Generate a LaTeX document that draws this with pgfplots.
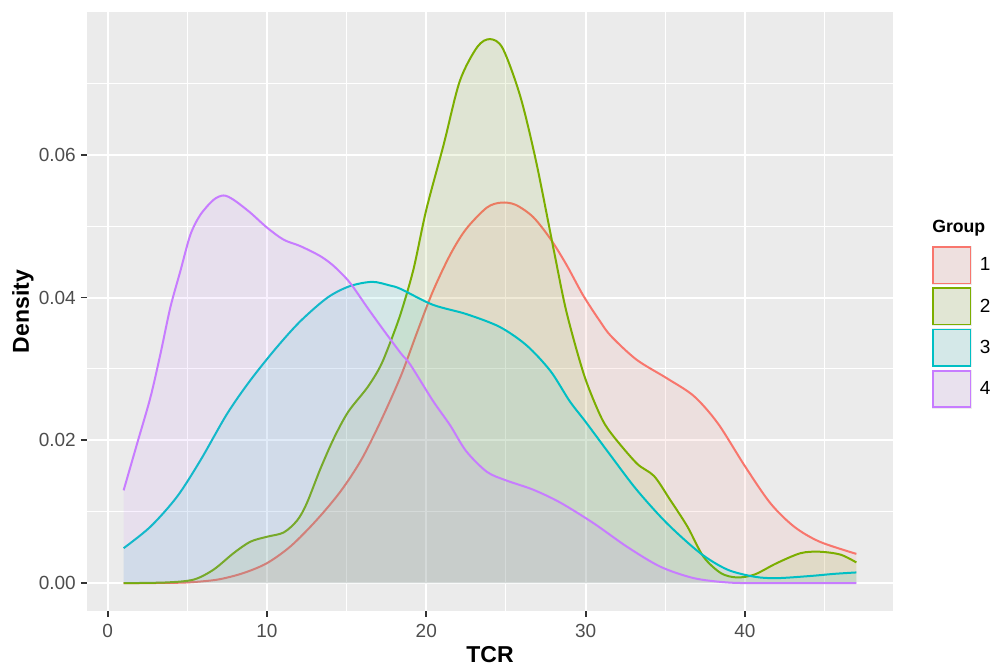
\documentclass[border=0pt]{standalone}
\usepackage{pgfplots}
\usepackage{pgfplotstable}
\pgfplotsset{compat=1.18}
\usepackage{fontspec}
\setmainfont{Liberation Sans}
\definecolor{c1}{HTML}{F8766D}
\definecolor{c2}{HTML}{7CAE00}
\definecolor{c3}{HTML}{00BFC4}
\definecolor{c4}{HTML}{C77CFF}
\definecolor{panel}{HTML}{EBEBEB}
\definecolor{keybg}{HTML}{EDEDED}
\definecolor{ticktext}{HTML}{4D4D4D}
\definecolor{tickmark}{HTML}{333333}

\pgfplotstableread{
x y
1 0
3 0.00002
5 0.0001
6.9 0.0005
8.5 0.0014
10 0.0028
11.5 0.0052
13.1 0.0088
14.6 0.0128
15.9 0.0172
17.1 0.0225
18.4 0.0290
19.4 0.0350
20.4 0.0408
21.5 0.0460
22.5 0.0496
23.8 0.0526
24.7 0.0533
25.6 0.0530
26.7 0.0513
27.8 0.0482
28.8 0.0446
29.85 0.0403
30.9 0.0367
31.6 0.0346
33.2 0.0313
35.1 0.0287
36.8 0.0262
38.3 0.0224
40 0.0164
41.6 0.0112
43.1 0.0079
44.7 0.0058
47 0.0041
}\gone
\pgfplotstableread{
x y
1 0
3.7 0.0001
5.4 0.0005
6.65 0.0019
7.9 0.0042
8.95 0.0058
10 0.0065
11.05 0.0071
11.9 0.0088
12.5 0.0112
13.35 0.0160
14.2 0.0203
15.1 0.0240
16.3 0.0274
17.1 0.0303
17.7 0.0335
18.4 0.0378
19.2 0.0440
20.0 0.0523
21.1 0.0615
22.1 0.0703
23.2 0.0751
24.0 0.0762
24.8 0.0749
25.9 0.0682
26.9 0.0590
28.0 0.0467
28.8 0.0380
29.9 0.0292
30.9 0.0236
31.6 0.0210
33.2 0.0168
34.3 0.0150
35.3 0.0117
36.4 0.0079
37.4 0.0037
38.5 0.0014
39.5 0.0008
40.6 0.0012
42.0 0.0028
43.5 0.0042
44.7 0.0044
46.0 0.0040
47 0.0029
}\gtwo
\pgfplotstableread{
x y
1 0.0049
2.68 0.0079
4.35 0.0121
5.82 0.0172
7.49 0.0237
8.95 0.0284
10.6 0.0330
12.1 0.0367
13.8 0.0400
15.2 0.0416
16.6 0.0422
17.7 0.0417
18.4 0.0412
20.4 0.0390
22.5 0.0377
24.6 0.0359
26.3 0.0333
27.8 0.0297
29.0 0.0255
30.0 0.0226
31.6 0.0178
33.2 0.0131
35.1 0.0084
37.2 0.0042
38.9 0.0019
40.6 0.0009
42.0 0.0007
44.1 0.0010
45.6 0.0013
47 0.0015
}\gthree
\pgfplotstableread{
x y
1 0.0130
1.84 0.0195
2.68 0.0260
3.31 0.0321
3.93 0.0386
4.56 0.0437
5.19 0.0488
5.82 0.0516
6.65 0.0537
7.28 0.0543
7.9 0.0537
8.95 0.0519
10 0.0498
11.05 0.0481
12.1 0.0472
13.35 0.0458
14.2 0.0444
15.2 0.0421
16.3 0.0386
17.3 0.0355
18.4 0.0322
19.0 0.0306
20.4 0.0256
21.5 0.0221
22.5 0.0185
23.8 0.0156
25.0 0.0144
26.7 0.0131
28.4 0.0113
30.5 0.0084
32.6 0.0051
34.7 0.0023
36.8 0.0007
38.9 0.0001
41 0
47 0
}\gfour

\begin{document}
\begin{tikzpicture}
\useasboundingbox (0,0) rectangle (742.5pt,499.5pt);
\begin{axis}[
  at={(65.25pt,41.25pt)}, anchor=south west,
  width=604.5pt, height=449.25pt, scale only axis,
  xmin=-1.3, xmax=49.3, ymin=-0.0039, ymax=0.0800,
  axis background/.style={fill=panel},
  axis line style={draw=none},
  xtick={0,10,20,30,40},
  ytick={0,0.02,0.04,0.06},
  yticklabels={0.00,0.02,0.04,0.06},
  minor xtick={5,15,25,35,45},
  minor ytick={0.01,0.03,0.05,0.07},
  grid=both,
  major grid style={white, line width=1.5pt},
  minor grid style={white, line width=0.75pt},
  tick pos=left, tick align=outside,
  major tick length=4.5pt, minor tick length=0pt,
  tick style={color=tickmark, line width=1.4pt},
  scaled y ticks=false,
  /pgf/number format/assume math mode=true,
  ticklabel style={font=\fontsize{14.25}{14.25}\selectfont, text=ticktext},
  xticklabel style={anchor=north, inner sep=0pt, yshift=-4.9pt},
  yticklabel style={anchor=east, inner sep=0pt, xshift=-3.75pt},
  xlabel={TCR}, ylabel={Density},
  xlabel style={at={(axis description cs:0.5,0)}, anchor=base, yshift=-39pt, font=\bfseries\fontsize{17.25}{17.25}\selectfont},
  ylabel style={at={(axis description cs:0,0.5)}, anchor=base, yshift=43.5pt, font=\bfseries\fontsize{17.25}{17.25}\selectfont},
  legend style={at={(axis description cs:1,1)}, anchor=north west, xshift=29.25pt, yshift=-175.5pt,
    draw=none, fill=none, inner sep=0pt, outer sep=0pt, row sep=2pt, column sep=6.2pt,
    font=\fontsize{14.25}{14.25}\selectfont, text=black, nodes={inner sep=0pt}},
  legend cell align=left,
  legend image code/.code={
    \fill[keybg, fill opacity=1] (0pt,-14.25pt) rectangle (29.25pt,14.25pt);
    \draw[#1, line width=1.3pt] (0.65pt,-13.6pt) rectangle (28.6pt,13.6pt);
  },
]
\addplot[draw=none, fill=c1, fill opacity=0.1, smooth, tension=0.5, forget plot] table {\gone} \closedcycle;
\addplot[c1, line width=1.5pt, smooth, tension=0.5, forget plot] table {\gone};
\addplot[draw=none, fill=c2, fill opacity=0.1, smooth, tension=0.5, forget plot] table {\gtwo} \closedcycle;
\addplot[c2, line width=1.5pt, smooth, tension=0.5, forget plot] table {\gtwo};
\addplot[draw=none, fill=c3, fill opacity=0.1, smooth, tension=0.5, forget plot] table {\gthree} \closedcycle;
\addplot[c3, line width=1.5pt, smooth, tension=0.5, forget plot] table {\gthree};
\addplot[draw=none, fill=c4, fill opacity=0.1, smooth, tension=0.5, forget plot] table {\gfour} \closedcycle;
\addplot[c4, line width=1.5pt, smooth, tension=0.5, forget plot] table {\gfour};
\addlegendimage{draw=c1, fill=c1, fill opacity=0.1}
\addlegendentry{1}
\addlegendimage{draw=c2, fill=c2, fill opacity=0.1}
\addlegendentry{2}
\addlegendimage{draw=c3, fill=c3, fill opacity=0.1}
\addlegendentry{3}
\addlegendimage{draw=c4, fill=c4, fill opacity=0.1}
\addlegendentry{4}
\end{axis}
\node[anchor=base west, inner sep=0pt, font=\bfseries\fontsize{13.25}{13.25}\selectfont] at (699pt,324.75pt) {Group};
\end{tikzpicture}
\end{document}
